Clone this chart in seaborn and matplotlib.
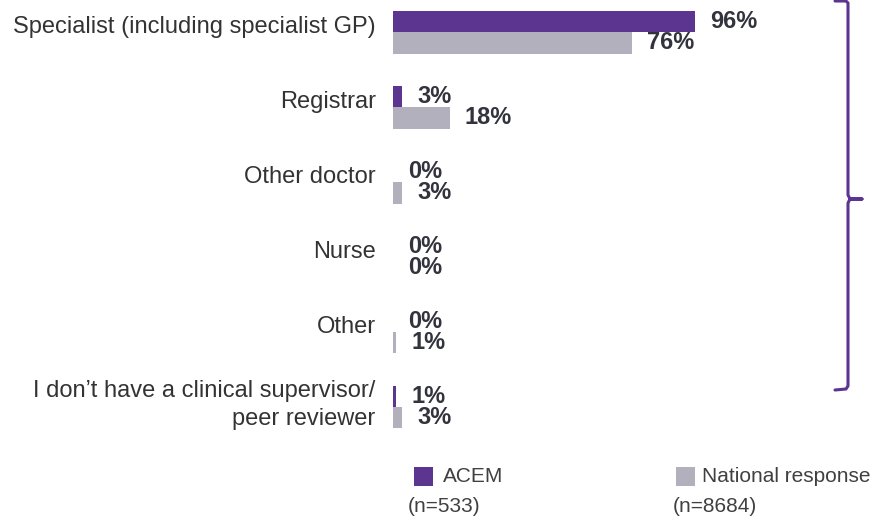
import numpy as np
import pandas as pd
import matplotlib
matplotlib.use("Agg")
import matplotlib.pyplot as plt
import matplotlib.transforms as mtrans
from matplotlib.patches import Rectangle
from matplotlib.lines import Line2D
import seaborn as sns

# Data
categories = [
    "Specialist (including specialist GP)", "Registrar", "Other doctor",
    "Nurse", "Other", "I don\u2019t have a clinical supervisor/\npeer reviewer"
]
acem = [96, 3, 0, 0, 0, 1]
national = [76, 18, 3, 0, 1, 3]
series = ["ACEM", "National response"]
sample_sizes = ["(n=533)", "(n=8684)"]

purple = "#5B3590"
grey = "#B1B0BC"
text_dark = "#33333D"

df = pd.DataFrame({
    "Category": categories * 2,
    "Group": [series[0]] * len(categories) + [series[1]] * len(categories),
    "Value": acem + national,
})

sns.set_style("white")
plt.rcParams["font.family"] = ["Liberation Sans", "DejaVu Sans"]

fig = plt.figure(figsize=(8.73, 5.18), dpi=100)
ax = fig.add_axes([393 / 873, 1 - 440 / 518, 314.6 / 873, 440 / 518])

sns.barplot(data=df, y="Category", x="Value", hue="Group", order=categories,
            hue_order=series, palette=[purple, grey], width=0.573,
            orient="h", legend=False, ax=ax, saturation=1, linewidth=0)

ax.set_xlim(0, 100)
ax.set_ylim(5.44, -0.427)
for s in ax.spines.values():
    s.set_visible(False)
ax.set_xticks([])
ax.set_xlabel("")
ax.set_ylabel("")
ax.tick_params(axis="y", length=0, pad=12.5, labelsize=17, labelcolor="#333333")

# shift category labels up a little
shift = mtrans.ScaledTranslation(0, 8 / 100, fig.dpi_scale_trans)
for lab in ax.get_yticklabels():
    lab.set_transform(lab.get_transform() + shift)
    lab.set_linespacing(1.38)

# value labels
off = 0.143
for i in range(len(categories)):
    ax.text(acem[i] + 4.8, i - off, f"{acem[i]}%", va="center", ha="left",
            fontsize=17, fontweight="bold", color=text_dark)
    ax.text(national[i] + 4.8, i + off, f"{national[i]}%", va="center", ha="left",
            fontsize=17, fontweight="bold", color=text_dark)

# bracket on the right
def fy(y):
    return 1 - y / 518

def fx(x):
    return x / 873

bx = [835, 846, 848, 848, 850, 862, 850, 848, 848, 846, 835]
by = [1, 1, 3, 195, 199, 199, 199, 203, 386, 389, 390]
fig.add_artist(Line2D([fx(x) for x in bx], [fy(y) for y in by], color=purple,
                      lw=2.2, solid_joinstyle="round", solid_capstyle="round"))

# legend
for sx, tx, nx, name, n, col in [(414, 443, 408, series[0], sample_sizes[0], purple),
                                  (676, 702, 673, series[1], sample_sizes[1], grey)]:
    fig.add_artist(Rectangle((fx(sx), fy(486)), 19 / 873, 19 / 518,
                             transform=fig.transFigure, color=col, lw=0))
    fig.text(fx(tx), fy(476), name, fontsize=15, color="#404040", va="center", ha="left")
    fig.text(fx(nx), fy(506), n, fontsize=15, color="#404040", va="center", ha="left")

fig.savefig("out.png", dpi=100)
